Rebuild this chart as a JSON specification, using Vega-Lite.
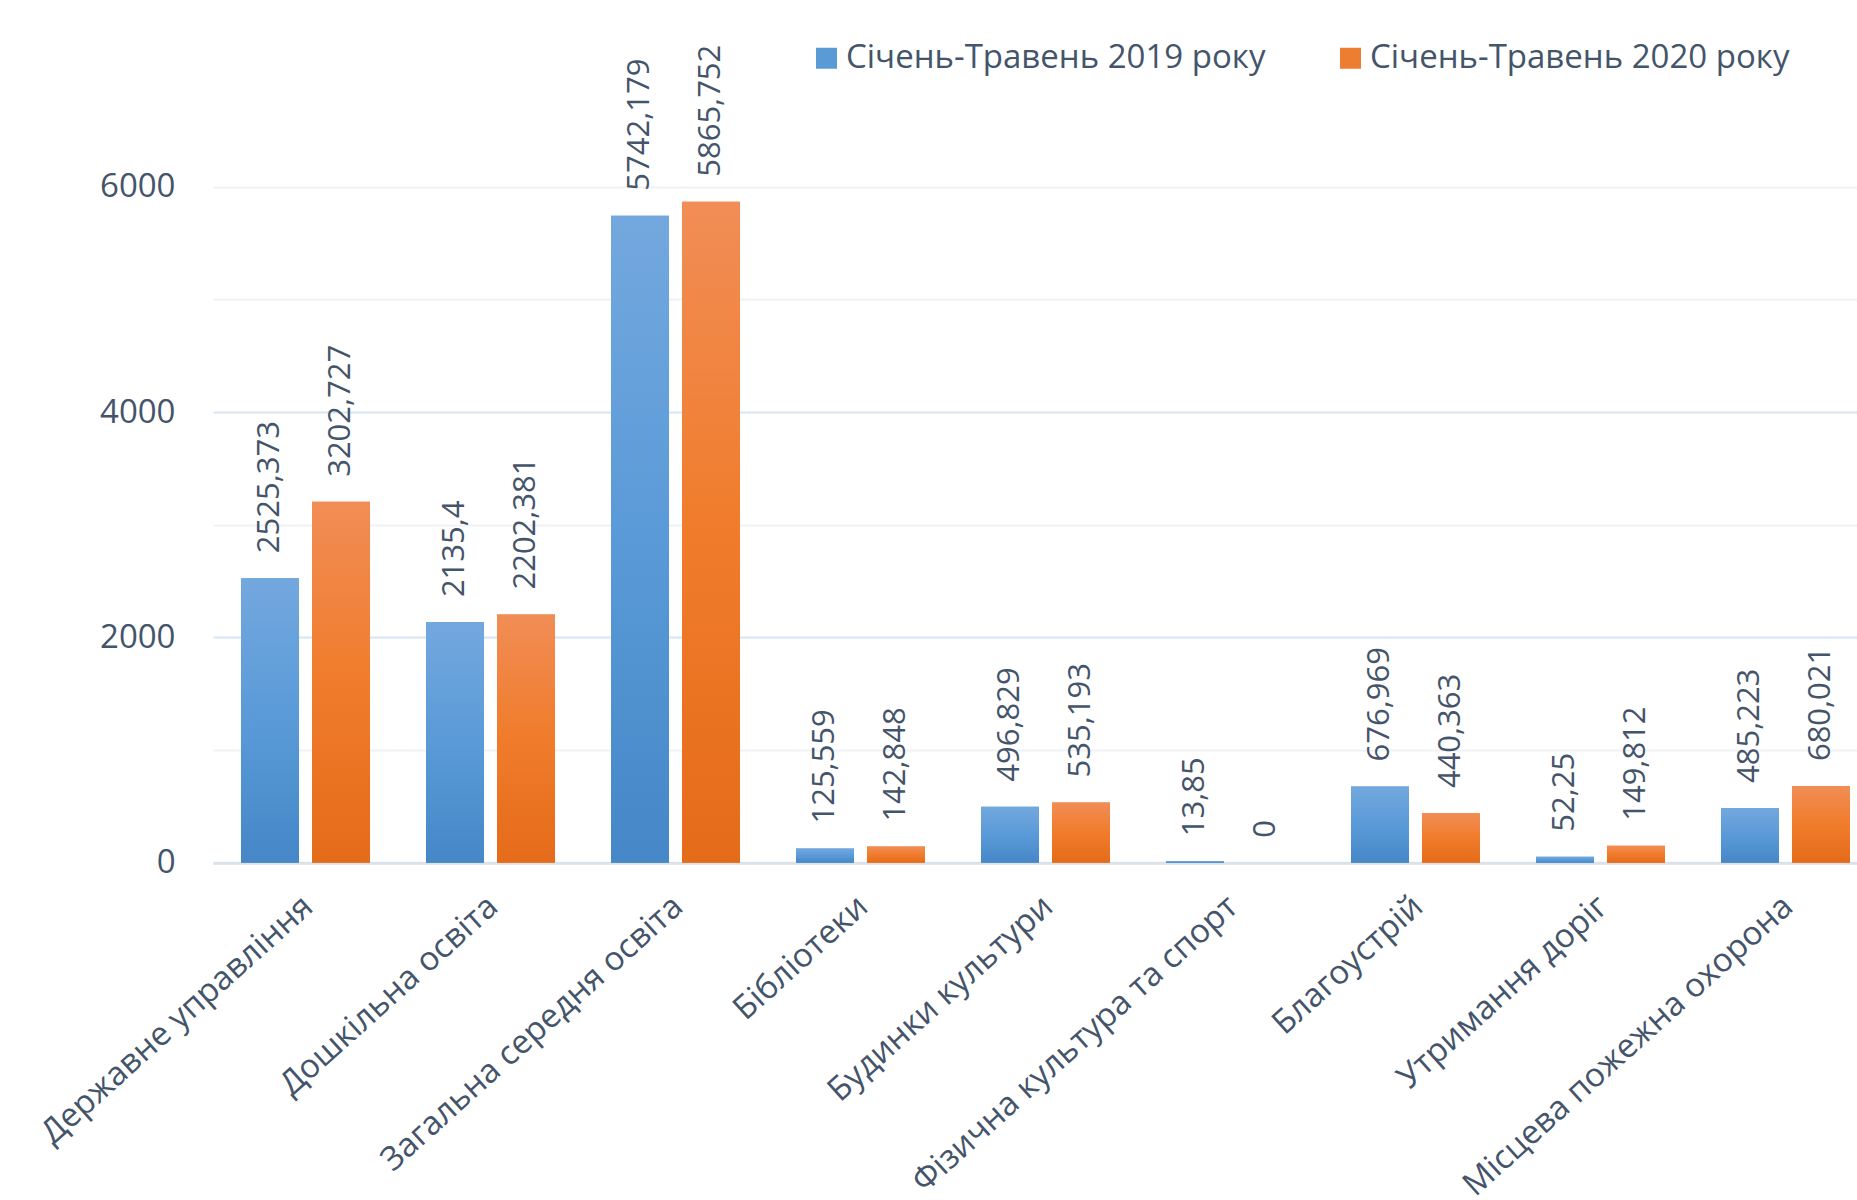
{
  "$schema": "https://vega.github.io/schema/vega-lite/v6.json",
  "width": 1644,
  "height": 788.7,
  "autosize": {"type": "none"},
  "padding": {"left": 213, "top": 74, "right": 0, "bottom": 337.3},
  "background": "white",
  "config": {
    "view": {"stroke": null},
    "font": "Open Sans",
    "locale": {"number": {"decimal": ",", "thousands": " ", "grouping": [3], "currency": ["", ""]}}
  },
  "data": {
    "values": [
      {"category": "Державне управління", "period": "Січень-Травень 2019 року", "value": 2525.373},
      {"category": "Державне управління", "period": "Січень-Травень 2020 року", "value": 3202.727},
      {"category": "Дошкільна освіта", "period": "Січень-Травень 2019 року", "value": 2135.4},
      {"category": "Дошкільна освіта", "period": "Січень-Травень 2020 року", "value": 2202.381},
      {"category": "Загальна середня освіта", "period": "Січень-Травень 2019 року", "value": 5742.179},
      {"category": "Загальна середня освіта", "period": "Січень-Травень 2020 року", "value": 5865.752},
      {"category": "Бібліотеки", "period": "Січень-Травень 2019 року", "value": 125.559},
      {"category": "Бібліотеки", "period": "Січень-Травень 2020 року", "value": 142.848},
      {"category": "Будинки культури", "period": "Січень-Травень 2019 року", "value": 496.829},
      {"category": "Будинки культури", "period": "Січень-Травень 2020 року", "value": 535.193},
      {"category": "Фізична культура та спорт", "period": "Січень-Травень 2019 року", "value": 13.85},
      {"category": "Фізична культура та спорт", "period": "Січень-Травень 2020 року", "value": 0},
      {"category": "Благоустрій", "period": "Січень-Травень 2019 року", "value": 676.969},
      {"category": "Благоустрій", "period": "Січень-Травень 2020 року", "value": 440.363},
      {"category": "Утримання доріг", "period": "Січень-Травень 2019 року", "value": 52.25},
      {"category": "Утримання доріг", "period": "Січень-Травень 2020 року", "value": 149.812},
      {"category": "Місцева пожежна охорона", "period": "Січень-Травень 2019 року", "value": 485.223},
      {"category": "Місцева пожежна охорона", "period": "Січень-Травень 2020 року", "value": 680.021}
    ]
  },
  "encoding": {
    "x": {
      "field": "category",
      "type": "nominal",
      "sort": null,
      "title": null,
      "scale": {"range": [0, 1665], "paddingInner": 0.3027, "paddingOuter": 0.1514},
      "axis": {
        "domainColor": "#dce2ea",
        "domainWidth": 3,
        "ticks": false,
        "grid": false,
        "labelAngle": -42,
        "labelAlign": "right",
        "labelBaseline": "top",
        "labelPadding": 27,
        "labelOffset": -8,
        "labelFont": "Open Sans",
        "labelFontSize": 33,
        "labelColor": "#44546a",
        "labelLimit": 0,
        "labelOverlap": false
      }
    },
    "xOffset": {
      "field": "period",
      "type": "nominal",
      "scale": {"paddingInner": 0.183, "paddingOuter": 0}
    },
    "y": {
      "field": "value",
      "type": "quantitative",
      "title": null,
      "scale": {"domain": [0, 7000], "nice": false},
      "axis": {
        "values": [0, 1000, 2000, 3000, 4000, 5000, 6000],
        "format": "d",
        "labelExpr": "datum.value % 2000 === 0 ? datum.label : ''",
        "domain": false,
        "ticks": false,
        "labelPadding": 38,
        "labelFont": "Open Sans",
        "labelFontSize": 33,
        "labelColor": "#44546a",
        "gridWidth": 2,
        "gridColor": {
          "condition": {"test": "datum.value % 2000 !== 0 || datum.value === 6000", "value": "#f0f2f5"},
          "value": "#d6e5f3"
        }
      }
    }
  },
  "layer": [
    {
      "mark": {"type": "bar"},
      "encoding": {
        "color": {
          "field": "period",
          "type": "nominal",
          "scale": {"range": ["#5b9bd5", "#ed7d31"]},
          "legend": {
            "orient": "none",
            "legendX": 597,
            "legendY": -32.5,
            "direction": "horizontal",
            "title": null,
            "symbolType": "square",
            "symbolSize": 441,
            "symbolStrokeWidth": 0,
            "labelFont": "Open Sans",
            "labelFontSize": 33,
            "labelColor": "#44546a",
            "labelOffset": 3,
            "columnPadding": 68,
            "labelLimit": 0,
            "padding": 0
          }
        }
      }
    },
    {
      "mark": {"type": "bar"},
      "encoding": {
        "fill": {
          "condition": {
            "test": "datum.period === 'Січень-Травень 2019 року'",
            "value": {"gradient": "linear", "x1": 0, "y1": 0, "x2": 0, "y2": 1, "stops": [{"offset": 0, "color": "#73a8de"}, {"offset": 0.5, "color": "#5a9ad8"}, {"offset": 1, "color": "#4587c7"}]}
          },
          "value": {"gradient": "linear", "x1": 0, "y1": 0, "x2": 0, "y2": 1, "stops": [{"offset": 0, "color": "#f18d56"}, {"offset": 0.5, "color": "#f07c2b"}, {"offset": 1, "color": "#e46b19"}]}
        }
      }
    },
    {
      "mark": {"type": "text", "angle": 270, "align": "left", "baseline": "middle", "dx": 25, "font": "Open Sans", "fontSize": 31, "color": "#44546a"},
      "encoding": {
        "text": {"field": "value", "type": "quantitative", "format": "~f"}
      }
    }
  ]
}
